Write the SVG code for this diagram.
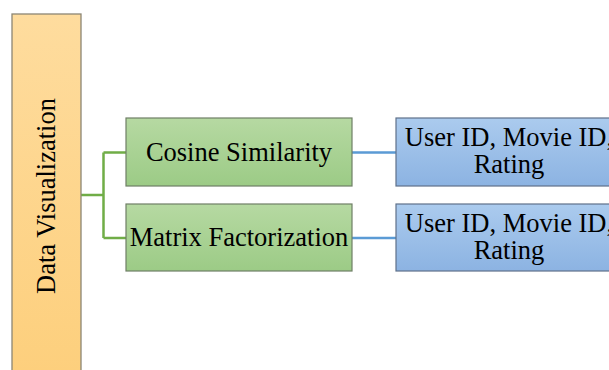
<svg xmlns="http://www.w3.org/2000/svg" width="609" height="370" viewBox="0 0 609 370" font-family="'Liberation Serif', 'Times New Roman', 'DejaVu Serif', serif">
  <defs>
    <linearGradient id="gOrange" x1="0" y1="0" x2="0" y2="1">
      <stop offset="0" stop-color="#FEDC9E"/>
      <stop offset="1" stop-color="#FDCF7C"/>
    </linearGradient>
    <linearGradient id="gGreen" x1="0" y1="0" x2="0" y2="1">
      <stop offset="0" stop-color="#B6D9A2"/>
      <stop offset="1" stop-color="#9CCB86"/>
    </linearGradient>
    <linearGradient id="gBlue" x1="0" y1="0" x2="0" y2="1">
      <stop offset="0" stop-color="#ABCBEE"/>
      <stop offset="1" stop-color="#8CB3E2"/>
    </linearGradient>
  </defs>
  <style>
    text { font-family: 'Liberation Serif', 'Times New Roman', 'DejaVu Serif', serif; font-size: 26.5px; fill: #000; text-anchor: middle; }
    .root { fill: url(#gOrange); stroke: #8C8674; stroke-width: 1.3; }
    .method { fill: url(#gGreen); stroke: #6F7F66; stroke-width: 1.2; }
    .data { fill: url(#gBlue); stroke: #5F718A; stroke-width: 1.2; }
    .lvl1 { fill: none; stroke: #70AD47; stroke-width: 2.5; }
    .lvl2 { fill: none; stroke: #5B9BD5; stroke-width: 2.5; }
  </style>

  <g id="connectors">
    <path class="lvl1" d="M81 195 H103.5 M103.5 152.5 V238 M103.5 152.5 H126 M103.5 238 H126"/>
    <path class="lvl2" d="M352 152.5 H396 M352 238 H396"/>
  </g>

  <g id="data-visualization">
    <rect class="root" x="12" y="14" width="69" height="366"/>
    <text transform="translate(55 196) rotate(-90)">Data Visualization</text>
  </g>

  <g id="cosine-similarity">
    <rect class="method" x="126" y="118" width="226" height="68"/>
    <text x="239" y="161">Cosine Similarity</text>
  </g>

  <g id="matrix-factorization">
    <rect class="method" x="126" y="204" width="226" height="67"/>
    <text x="239" y="246">Matrix Factorization</text>
  </g>

  <g id="cosine-inputs">
    <rect class="data" x="396" y="118" width="226" height="68"/>
    <text x="509" y="146">User ID, Movie ID,</text>
    <text x="509" y="173">Rating</text>
  </g>

  <g id="matrix-inputs">
    <rect class="data" x="396" y="204" width="226" height="67"/>
    <text x="509" y="232">User ID, Movie ID,</text>
    <text x="509" y="259">Rating</text>
  </g>
</svg>
